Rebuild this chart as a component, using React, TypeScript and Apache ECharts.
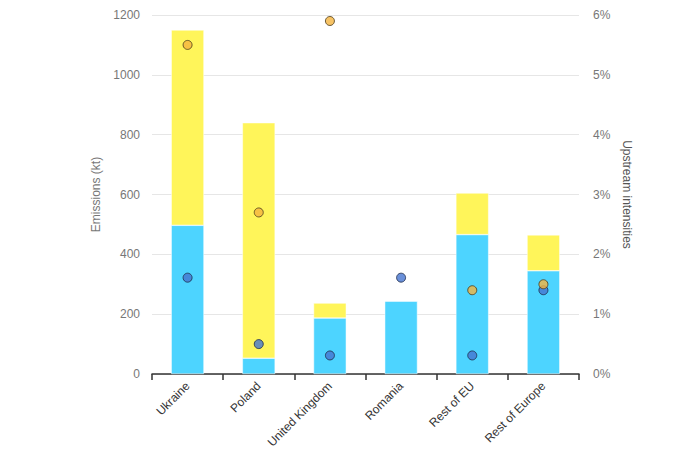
import React, { useEffect, useRef } from "react";
import * as echarts from "echarts";

const categories = ["Ukraine", "Poland", "United Kingdom", "Romania", "Rest of EU", "Rest of Europe"];
const baseEmissions = [497, 53, 187, 244, 466, 345];
const extraEmissions = [653, 787, 50, 0, 139, 120];
const intensityA = [5.5, 2.7, 5.9, null, 1.4, 1.5];
const intensityB = [1.61, 0.5, 0.31, 1.61, 0.31, 1.4];

export default function App() {
  const ref = useRef<HTMLDivElement>(null);
  useEffect(() => {
    document.body.style.margin = "0";
    if (!ref.current) return;
    const chart = echarts.init(ref.current, null, { renderer: "svg" });
    const font = "Liberation Sans, Arial, sans-serif";
    chart.setOption({
      animation: false,
      textStyle: { fontFamily: font },
      grid: { left: 152, right: 109, top: 15, bottom: 80 },
      xAxis: {
        type: "category",
        data: categories,
        axisLine: { lineStyle: { color: "#333", width: 1.5 } },
        axisTick: { show: true, length: 6, lineStyle: { color: "#333", width: 1.5 } },
        axisLabel: { rotate: 45, color: "#333", fontSize: 12, margin: 10, fontFamily: font },
      },
      yAxis: [
        {
          type: "value",
          min: 0,
          max: 1200,
          interval: 200,
          name: "Emissions (kt)",
          nameLocation: "middle",
          nameGap: 46,
          nameTextStyle: { color: "#777", fontSize: 12, fontFamily: font },
          axisLine: { show: false },
          axisTick: { show: false },
          axisLabel: { color: "#777", fontSize: 12, margin: 12, fontFamily: font, formatter: (v: number) => String(v) },
          splitLine: { lineStyle: { color: "#e6e6e6" } },
        },
        {
          type: "value",
          min: 0,
          max: 6,
          interval: 1,
          name: "Upstream intensities",
          nameLocation: "middle",
          nameGap: 36,
          nameRotate: -90,
          nameTextStyle: { color: "#555", fontSize: 12, fontFamily: font },
          axisLine: { show: false },
          axisTick: { show: false },
          axisLabel: { color: "#777", fontSize: 12, margin: 14, formatter: "{value}%", fontFamily: font },
          splitLine: { show: false },
        },
      ],
      series: [
        {
          name: "Base emissions",
          type: "bar",
          stack: "e",
          data: baseEmissions,
          barWidth: "46%",
          itemStyle: { color: "#4DD4FF", borderColor: "#ffffff", borderWidth: 0.5 },
        },
        {
          name: "Additional emissions",
          type: "bar",
          stack: "e",
          data: extraEmissions,
          barWidth: "46%",
          itemStyle: { color: "#FFF55A", borderColor: "#ffffff", borderWidth: 0.5 },
        },
        {
          name: "Intensity A",
          type: "scatter",
          yAxisIndex: 1,
          data: intensityA,
          symbolSize: 9,
          itemStyle: { color: "#F5B43F", borderColor: "#4a3a1a", borderWidth: 1 },
          z: 5,
        },
        {
          name: "Intensity B",
          type: "scatter",
          yAxisIndex: 1,
          data: intensityB,
          symbolSize: 9,
          itemStyle: { color: "#4574D0", borderColor: "#1d2a48", borderWidth: 1 },
          z: 4,
        },
      ],
    });
    return () => chart.dispose();
  }, []);
  return <div ref={ref} style={{ width: 688, height: 454 }} />;
}
